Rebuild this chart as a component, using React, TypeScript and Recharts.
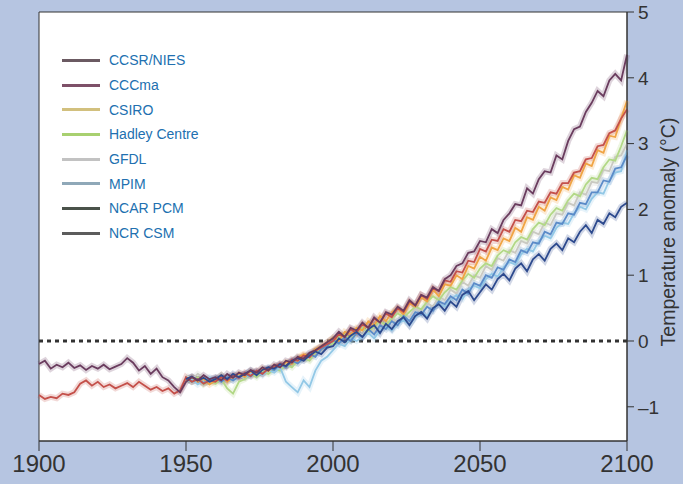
import React from "react";
import {
  ComposedChart,
  Line,
  XAxis,
  YAxis,
  ReferenceLine,
  ReferenceArea,
} from "recharts";

// Year grid (every 2 years)
const YEARS: number[] = Array.from({ length: 101 }, (_, i) => 1900 + i * 2);

const X_TICKS = [1900, 1950, 2000, 2050, 2100];
const Y_TICKS = [-1, 0, 1, 2, 3, 4, 5];
const Y_TITLE = "Temperature anomaly (°C)";

// Series from 1900 (101 values, every 2 years)
const CCSR_NIES = [
  -0.35, -0.30, -0.42, -0.36, -0.40,
  -0.33, -0.41, -0.37, -0.44, -0.38,
  -0.42, -0.36, -0.43, -0.39, -0.35,
  -0.26, -0.33, -0.45, -0.38, -0.50,
  -0.42, -0.55, -0.60, -0.70, -0.78,
  -0.62, -0.55, -0.60, -0.52, -0.58,
  -0.55, -0.60, -0.50, -0.56, -0.48,
  -0.52, -0.44, -0.48, -0.40, -0.45,
  -0.36, -0.40, -0.30, -0.33, -0.24,
  -0.27, -0.18, -0.14, -0.08, -0.02,
  0.04, 0.14, 0.06, 0.20, 0.16,
  0.28, 0.20, 0.36, 0.28, 0.44,
  0.40, 0.52, 0.46, 0.62, 0.54,
  0.70, 0.66, 0.82, 0.76, 0.94,
  1.00, 1.14, 1.18, 1.34, 1.36,
  1.52, 1.50, 1.70, 1.64, 1.84,
  1.94, 2.08, 2.06, 2.32, 2.24,
  2.46, 2.58, 2.56, 2.82, 2.76,
  3.04, 3.22, 3.26, 3.48, 3.62,
  3.80, 3.72, 3.96, 4.06, 3.96,
  4.35,
];

const CCCMA = [
  -0.82, -0.88, -0.85, -0.87, -0.80,
  -0.82, -0.78, -0.65, -0.60, -0.68,
  -0.62, -0.70, -0.66, -0.72, -0.68,
  -0.64, -0.70, -0.62, -0.68, -0.74,
  -0.70, -0.76, -0.72, -0.80, -0.75,
  -0.55, -0.62, -0.58, -0.65, -0.60,
  -0.62, -0.55, -0.60, -0.52, -0.56,
  -0.48, -0.53, -0.45, -0.50, -0.42,
  -0.40, -0.34, -0.38, -0.28, -0.30,
  -0.22, -0.25, -0.15, -0.10, -0.05,
  0.00, 0.10, 0.06, 0.18, 0.12,
  0.26, 0.20, 0.34, 0.28, 0.42,
  0.36, 0.50, 0.44, 0.60, 0.54,
  0.70, 0.64, 0.80, 0.76, 0.92,
  0.90, 1.06, 1.04, 1.22, 1.20,
  1.40, 1.36, 1.54, 1.52, 1.70,
  1.66, 1.84, 1.82, 1.98, 1.96,
  2.12, 2.10, 2.26, 2.24, 2.40,
  2.40, 2.56, 2.58, 2.76, 2.78,
  2.96, 2.98, 3.16, 3.20, 3.38,
  3.52,
];

// Series from 1950 (76 values, every 2 years)
const CSIRO = [
  -0.60, -0.55, -0.62, -0.58, -0.66,
  -0.60, -0.52, -0.62, -0.55, -0.50,
  -0.55, -0.46, -0.50, -0.42, -0.46,
  -0.38, -0.40, -0.32, -0.35, -0.25,
  -0.20, -0.22, -0.12, -0.08, -0.02,
  0.05, 0.00, 0.14, 0.10, 0.20,
  0.16, 0.30, 0.24, 0.38, 0.30,
  0.44, 0.50, 0.40, 0.58, 0.52,
  0.66, 0.60, 0.78, 0.68, 0.86,
  0.84, 1.00, 0.94, 1.14, 1.10,
  1.28, 1.22, 1.42, 1.38, 1.56,
  1.52, 1.72, 1.66, 1.88, 1.84,
  2.04, 1.98, 2.18, 2.14, 2.34,
  2.30, 2.52, 2.48, 2.70, 2.66,
  2.90, 2.86, 3.12, 3.10, 3.38,
  3.65,
];

const HADLEY = [
  -0.58, -0.62, -0.55, -0.66, -0.60,
  -0.65, -0.58, -0.72, -0.80, -0.62,
  -0.58, -0.50, -0.55, -0.46, -0.50,
  -0.42, -0.45, -0.36, -0.40, -0.30,
  -0.26, -0.30, -0.18, -0.12, -0.08,
  -0.04, 0.06, 0.10, 0.02, 0.12,
  0.20, 0.14, 0.22, 0.30, 0.24,
  0.34, 0.42, 0.36, 0.44, 0.52,
  0.48, 0.60, 0.68, 0.62, 0.74,
  0.82, 0.78, 0.92, 1.02, 0.96,
  1.10, 1.18, 1.14, 1.30, 1.38,
  1.34, 1.50, 1.58, 1.54, 1.70,
  1.80, 1.76, 1.92, 2.02, 1.98,
  2.14, 2.24, 2.20, 2.38, 2.48,
  2.46, 2.64, 2.76, 2.74, 2.96,
  3.20,
];

const GFDL = [
  -0.52, -0.58, -0.50, -0.55, -0.62,
  -0.56, -0.64, -0.55, -0.60, -0.52,
  -0.56, -0.48, -0.52, -0.44, -0.48,
  -0.40, -0.44, -0.35, -0.30, -0.34,
  -0.25, -0.28, -0.16, -0.10, -0.06,
  0.02, -0.04, 0.08, 0.02, 0.14,
  0.08, 0.22, 0.14, 0.28, 0.22,
  0.36, 0.28, 0.42, 0.36, 0.50,
  0.44, 0.58, 0.52, 0.68, 0.62,
  0.78, 0.72, 0.90, 0.84, 1.00,
  0.96, 1.14, 1.08, 1.26, 1.22,
  1.38, 1.34, 1.52, 1.48, 1.66,
  1.62, 1.80, 1.76, 1.94, 1.92,
  2.10, 2.06, 2.26, 2.22, 2.42,
  2.40, 2.60, 2.58, 2.80, 2.82,
  3.00,
];

const MPIM = [
  -0.62, -0.58, -0.66, -0.60, -0.55,
  -0.60, -0.54, -0.62, -0.58, -0.52,
  -0.56, -0.50, -0.46, -0.52, -0.44,
  -0.48, -0.40, -0.62, -0.70, -0.78,
  -0.60, -0.70, -0.45, -0.30, -0.24,
  -0.14, -0.04, -0.08, 0.04, 0.00,
  0.06, 0.12, 0.04, 0.16, 0.22,
  0.16, 0.26, 0.32, 0.24, 0.36,
  0.44, 0.38, 0.50, 0.56, 0.52,
  0.62, 0.70, 0.64, 0.78, 0.84,
  0.80, 0.94, 1.02, 0.98, 1.12,
  1.20, 1.16, 1.32, 1.40, 1.36,
  1.52, 1.60, 1.56, 1.72, 1.80,
  1.78, 1.94, 2.04, 2.00, 2.16,
  2.26, 2.24, 2.44, 2.56, 2.58,
  2.90,
];

const NCAR_PCM = [
  -0.58, -0.54, -0.60, -0.56, -0.62,
  -0.58, -0.52, -0.58, -0.50, -0.55,
  -0.50, -0.45, -0.52, -0.44, -0.40,
  -0.42, -0.35, -0.38, -0.30, -0.26,
  -0.30, -0.22, -0.16, -0.20, -0.10,
  -0.08, 0.04, -0.02, 0.08, 0.14,
  0.06, 0.18, 0.24, 0.12, 0.26,
  0.18, 0.30, 0.36, 0.24, 0.38,
  0.44, 0.34, 0.50, 0.56, 0.46,
  0.60, 0.52, 0.70, 0.76, 0.62,
  0.74, 0.86, 0.78, 0.94, 1.02,
  0.92, 1.10, 1.18, 1.06, 1.24,
  1.32, 1.22, 1.40, 1.48, 1.38,
  1.56, 1.50, 1.66, 1.76, 1.64,
  1.84, 1.78, 1.94, 1.88, 2.04,
  2.10,
];

const NCR_CSM = [
  -0.56, -0.62, -0.58, -0.64, -0.60,
  -0.56, -0.62, -0.55, -0.60, -0.54,
  -0.50, -0.54, -0.46, -0.50, -0.42,
  -0.44, -0.36, -0.40, -0.30, -0.34,
  -0.26, -0.20, -0.24, -0.12, -0.08,
  0.02, -0.04, 0.06, 0.00, 0.12,
  0.06, 0.18, 0.10, 0.24, 0.18,
  0.30, 0.24, 0.38, 0.30, 0.44,
  0.40, 0.52, 0.46, 0.60, 0.56,
  0.68, 0.62, 0.78, 0.72, 0.88,
  0.84, 1.00, 0.96, 1.12, 1.08,
  1.24, 1.20, 1.38, 1.34, 1.50,
  1.48, 1.66, 1.62, 1.80, 1.78,
  1.94, 1.92, 2.10, 2.08, 2.26,
  2.26, 2.44, 2.42, 2.62, 2.64,
  2.82,
];

const SERIES = [
  { key: "CCSR/NIES", start: 1900, values: CCSR_NIES },
  { key: "CCCma", start: 1900, values: CCCMA },
  { key: "CSIRO", start: 1950, values: CSIRO },
  { key: "Hadley Centre", start: 1950, values: HADLEY },
  { key: "GFDL", start: 1950, values: GFDL },
  { key: "MPIM", start: 1950, values: MPIM },
  { key: "NCAR PCM", start: 1950, values: NCAR_PCM },
  { key: "NCR CSM", start: 1950, values: NCR_CSM },
];

const LINE_COLORS: Record<string, string> = {
  "CCSR/NIES": "#6a3c5e",
  CCCma: "#c4504a",
  CSIRO: "#f0a444",
  "Hadley Centre": "#b2d886",
  GFDL: "#c9c9c2",
  MPIM: "#92c8e6",
  "NCAR PCM": "#2d4a8e",
  "NCR CSM": "#5b8bc8",
};

const LEGEND_COLORS: Record<string, string> = {
  "CCSR/NIES": "#6b5a62",
  CCCma: "#7e5068",
  CSIRO: "#d2c07e",
  "Hadley Centre": "#a8d070",
  GFDL: "#c2c2c2",
  MPIM: "#8fa8b8",
  "NCAR PCM": "#4a524a",
  "NCR CSM": "#5c5c5c",
};

// draw order: light lines under darker ones
const DRAW_ORDER = [
  "GFDL",
  "Hadley Centre",
  "MPIM",
  "CSIRO",
  "NCR CSM",
  "CCCma",
  "NCAR PCM",
  "CCSR/NIES",
];

const data = YEARS.map((year) => {
  const row: Record<string, number | null> = { year };
  SERIES.forEach((s) => {
    const idx = (year - s.start) / 2;
    row[s.key] = idx >= 0 && idx < s.values.length ? s.values[idx] : null;
  });
  return row;
});

const FONT = "'Liberation Sans', Arial, sans-serif";

const fmtY = (v: number) => (v < 0 ? "\u2013" + Math.abs(v) : String(v));

export default function App() {
  return (
    <div
      style={{
        position: "fixed",
        left: 0,
        top: 0,
        width: 683,
        height: 484,
        background: "#b6c5e1",
        fontFamily: FONT,
      }}
    >
      <ComposedChart
        width={683}
        height={484}
        data={data}
        margin={{ top: 12, right: 0, bottom: 0, left: 39 }}
      >
        <ReferenceArea
          x1={1900}
          x2={2100}
          y1={-1.52}
          y2={5}
          fill="#ffffff"
          fillOpacity={1}
          stroke="#333"
          strokeWidth={1}
          ifOverflow="visible"
        />
        <XAxis
          dataKey="year"
          type="number"
          domain={[1900, 2100]}
          ticks={X_TICKS}
          height={43}
          tickSize={10}
          tickMargin={4}
          axisLine={{ stroke: "#333" }}
          tickLine={{ stroke: "#333" }}
          tick={{ fill: "#333", fontSize: 24, fontFamily: FONT }}
          interval={0}
        />
        <YAxis
          orientation="right"
          type="number"
          domain={[-1.52, 5]}
          ticks={Y_TICKS}
          width={56}
          tickSize={7}
          tickMargin={4}
          axisLine={{ stroke: "#333" }}
          tickLine={{ stroke: "#333" }}
          tick={{ fill: "#333", fontSize: 19, fontFamily: FONT }}
          tickFormatter={fmtY}
          interval={0}
          allowDataOverflow
        />
        <ReferenceLine
          y={0}
          stroke="#333"
          strokeWidth={3}
          strokeDasharray="4 4"
        />
        {DRAW_ORDER.map((k) => (
          <Line
            key={k + "-halo"}
            type="linear"
            dataKey={k}
            stroke={LINE_COLORS[k]}
            strokeOpacity={0.22}
            strokeWidth={6}
            dot={false}
            activeDot={false}
            legendType="none"
            isAnimationActive={false}
          />
        ))}
        {DRAW_ORDER.map((k) => (
          <Line
            key={k}
            type="linear"
            dataKey={k}
            stroke={LINE_COLORS[k]}
            strokeWidth={1.8}
            dot={false}
            isAnimationActive={false}
          />
        ))}
      </ComposedChart>
      <div style={{ position: "absolute", left: 62, top: 48 }}>
        {SERIES.map((s) => (
          <div
            key={s.key}
            style={{ display: "flex", alignItems: "center", height: 24.7 }}
          >
            <div
              style={{
                width: 38,
                height: 3,
                background: LEGEND_COLORS[s.key],
                marginRight: 9,
              }}
            />
            <span style={{ color: "#2170b0", fontSize: 14 }}>{s.key}</span>
          </div>
        ))}
      </div>
      <div
        style={{
          position: "absolute",
          left: 668,
          top: 232,
          transform: "translate(-50%, -50%) rotate(-90deg)",
          whiteSpace: "nowrap",
          fontSize: 19.5,
          color: "#333",
        }}
      >
        {Y_TITLE}
      </div>
    </div>
  );
}
